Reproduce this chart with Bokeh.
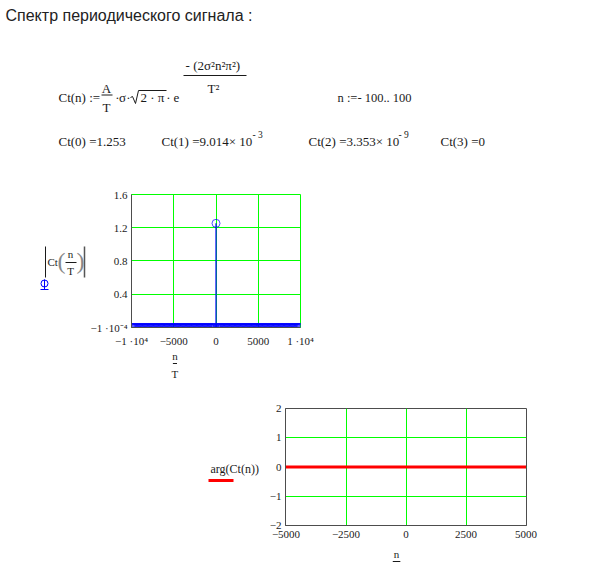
from bokeh.plotting import figure
from bokeh.models import Range1d, FixedTicker, Spacer
from bokeh.layouts import column, row
from bokeh.embed import file_html
from bokeh.resources import INLINE
from bokeh.core.properties import value

# ---------------- data ----------------
T = 0.01
n_values = list(range(-100, 101))              # n := -100..100
ct_abs = [0.0] * 100 + [1.253] + [0.0] * 100   # |Ct(n/T)|
arg_n = [-5000, 5000]
arg_values = [0.0, 0.0]                        # arg(Ct(n))

ct_results = ["Ct(0) =1.253", "Ct(1) =9.014× 10", "Ct(2) =3.353× 10", "Ct(3) =0"]
ct_exponents = ["", "-  3", "-  9", ""]

x1_ticks = [-10000, -5000, 0, 5000, 10000]
x1_labels = ["−1 ·10⁴", "−5000", "0", "5000", "1 ·10⁴"]
y1_ticks = [-1e-4, 0.4, 0.8, 1.2, 1.6]
y1_labels = ["−1 ·10⁻⁴", "0.4", "0.8", "1.2", "1.6"]
x2_ticks = [-5000, -2500, 0, 2500, 5000]
x2_labels = ["−5000", "−2500", "0", "2500", "5000"]
y2_ticks = [-2, -1, 0, 1, 2]
y2_labels = ["−2", "−1", "0", "1", "2"]

# ---------------- styles ----------------
SERIF = value("Liberation Serif")
SANS = value("Liberation Sans")
TXT = "#1a1a1a"
AXC = "#4d4d4d"
GREEN = "#00ff00"
BLUE = "#0000ff"
RED = "#ff0000"


def canvas(w, h):
    p = figure(width=w, height=h, x_range=Range1d(0, w), y_range=Range1d(h, 0),
               x_axis_type=None, y_axis_type=None, output_backend="svg",
               toolbar_location=None, min_border=0, title_location=None)
    p.outline_line_color = None
    p.background_fill_color = "white"
    p.border_fill_color = "white"
    return p


def txt(p, x, y, s, size="13px", align="left", font=SERIF, color=TXT):
    p.text(x=[x], y=[y], text=[s], text_font=font, text_font_size=size,
           text_align=align, text_baseline="middle", text_color=color)


def seg(p, xs, ys, color=TXT, width=1):
    p.line(x=xs, y=ys, line_color=color, line_width=width)


# ---------------- header (page coordinates) ----------------
hdr = canvas(581, 178)
txt(hdr, 5, 15, "Спектр периодического сигнала :", size="16px", font=SANS, color="#222222")
txt(hdr, 58, 97, "Ct(n) :=")
txt(hdr, 106, 88, "A", align="center")
seg(hdr, [101, 112], [94.5, 94.5])
txt(hdr, 106, 107, "T", align="center")
txt(hdr, 117, 97, "·", align="center")
txt(hdr, 122, 97, "σ", align="center")
txt(hdr, 128, 97, "·", align="center")
seg(hdr, [130, 132, 135, 138, 166], [97, 96, 103, 90, 90])
txt(hdr, 140, 97, "2 · π")
txt(hdr, 168, 97, "·", align="center")
txt(hdr, 173, 97, "e")
txt(hdr, 214, 65, "-  (2σ²n²π²)", align="center")
seg(hdr, [183, 246], [75, 75])
txt(hdr, 213, 88, "T²", align="center")
txt(hdr, 337, 97, "n :=- 100.. 100", size="12.5px")

res_x = [58, 161, 308, 440]
exp_x = [0, 252, 398, 0]
for i, s in enumerate(ct_results):
    txt(hdr, res_x[i], 141, s)
    if ct_exponents[i]:
        txt(hdr, exp_x[i], 134, ct_exponents[i], size="9.5px")


# ---------------- plot helpers ----------------
def style_axes(p, xt, xl, yt, yl, xstand, ystand):
    p.xaxis.ticker = FixedTicker(ticks=xt)
    p.yaxis.ticker = FixedTicker(ticks=yt)
    p.xaxis.major_label_overrides = {t: l for t, l in zip(xt, xl)}
    p.yaxis.major_label_overrides = {t: l for t, l in zip(yt, yl)}
    for ax in (p.xaxis, p.yaxis):
        ax.major_tick_in = 0
        ax.major_tick_out = 0
        ax.minor_tick_in = 0
        ax.minor_tick_out = 0
        ax.axis_line_color = AXC
        ax.major_label_text_font = "Liberation Serif"
        ax.major_label_text_font_size = "11px"
        ax.major_label_text_color = TXT
        ax.major_label_text_font_style = "normal"
    p.xaxis.major_label_standoff = xstand
    p.yaxis.major_label_standoff = ystand
    p.xgrid.grid_line_color = GREEN
    p.ygrid.grid_line_color = GREEN
    p.xgrid.grid_line_width = 1
    p.ygrid.grid_line_width = 1
    p.background_fill_color = "white"
    p.border_fill_color = "white"


# ---------------- plot 1 ----------------
x1_values = [n / T for n in n_values]

p1 = figure(width=494, height=172, x_range=Range1d(-10000, 10000), y_range=Range1d(-1e-4, 1.6),
            output_backend="svg", toolbar_location=None, title_location=None,
            min_border_left=44, min_border_right=281, min_border_top=16, min_border_bottom=23)
style_axes(p1, x1_ticks, x1_labels, y1_ticks, y1_labels, 7, 4)
p1.outline_line_color = GREEN
p1.segment(x0=x1_values, y0=[0.0] * len(x1_values), x1=x1_values, y1=ct_abs,
           line_color=BLUE, line_width=1.2)
p1.scatter(x=x1_values, y=ct_abs, marker="circle", size=8, fill_color=None,
           line_color=BLUE, line_width=0.7)

left1 = canvas(79, 207)
seg(left1, [37, 37], [68, 99], color=TXT)
seg(left1, [76, 76], [68, 99], color="#555555", width=1.5)
txt(left1, 39, 83, "Ct", size="11px")
txt(left1, 53, 82, "(", size="24px", align="center", color="#888888")
txt(left1, 62, 75, "n", size="11px", align="center")
seg(left1, [57, 68], [84, 84])
txt(left1, 62, 92, "T", size="11px", align="center")
txt(left1, 72, 82, ")", size="24px", align="center", color="#888888")
left1.scatter(x=[36], y=[105], marker="circle", size=7, fill_color=None, line_color=BLUE)
seg(left1, [36, 36], [101, 111], color=BLUE)
seg(left1, [32, 40], [111, 111], color=BLUE)

below1 = canvas(494, 35)
txt(below1, 127, 5, "n", size="11px", align="center")
seg(below1, [121, 133], [13, 13])
txt(below1, 127, 23, "T", size="11px", align="center")

# ---------------- plot 2 ----------------
# 241px frame with half a pixel of padding each side: the 1px grid lines land on pixel centres
PAD2 = 0.5 * 10000 / 240
p2 = figure(width=319, height=158, x_range=Range1d(-5000 - PAD2, 5000 + PAD2), y_range=Range1d(-2, 2),
            output_backend="svg", toolbar_location=None, title_location=None,
            min_border_left=23, min_border_right=55, min_border_top=23, min_border_bottom=18)
style_axes(p2, x2_ticks, x2_labels, y2_ticks, y2_labels, 5, 4)
p2.xgrid.ticker = FixedTicker(ticks=x2_ticks[1:-1])
p2.ygrid.ticker = FixedTicker(ticks=y2_ticks[1:-1])
p2.outline_line_color = AXC
p2.line(x=arg_n, y=arg_values, line_color=RED, line_width=3)

left2 = canvas(254, 178)
txt(left2, 202, 83, "arg(Ct(n))", size="12px")
seg(left2, [200, 225], [95, 95], color=RED, width=3)

below2 = canvas(319, 20)
txt(below2, 147, 10, "n", size="11px", align="center")
seg(below2, [142, 152], [18, 18], color=TXT)

rest = column(
    row(left1, column(p1, below1, spacing=0), spacing=0),
    row(left2, column(p2, below2, spacing=0), spacing=0),
    spacing=0,
)
layout = column(hdr, row(Spacer(width=8, height=385), rest, spacing=0), spacing=0)

open("out.html", "w").write(file_html(layout, INLINE))
